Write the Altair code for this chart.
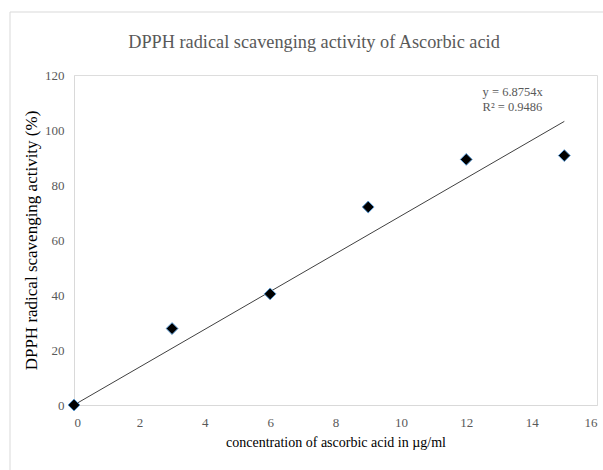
import altair as alt
import pandas as pd

conc = [0, 3, 6, 9, 12, 15]
activity = [0, 27.8, 40.4, 72.0, 89.3, 90.7]
slope = 6.8754
trend_x = [0, 15]
trend_y = [0, slope * 15]
x_ticks = [0, 2, 4, 6, 8, 10, 12, 14, 16]
y_ticks = [0, 20, 40, 60, 80, 100, 120]

pts = pd.DataFrame({"x": conc, "y": activity})
trend = pd.DataFrame({"x": trend_x, "y": trend_y})
eq = pd.DataFrame({"x": [12.5, 12.5], "y": [114, 108.5], "t": ["y = 6.8754x", "R² = 0.9486"]})
title_df = pd.DataFrame({"t": ["DPPH radical scavenging activity of Ascorbic acid"]})

FONT = "Liberation Serif"
GRAY = "#595959"

xs = alt.Scale(domain=[0, 16], nice=False)
ys = alt.Scale(domain=[0, 120], nice=False)

xaxis = alt.Axis(values=x_ticks, title="concentration of ascorbic acid in µg/ml", grid=False, ticks=False,
                 domainColor="#d9d9d9", labelColor=GRAY, labelFont=FONT, labelFontSize=13,
                 labelPadding=11, titleFont=FONT, titleFontSize=14, titleFontWeight="normal",
                 titleColor="#000000", titlePadding=6)
yaxis = alt.Axis(values=y_ticks, title="DPPH radical scavenging activity (%)", grid=False, ticks=False,
                 domainColor="#d9d9d9", labelColor=GRAY, labelFont=FONT, labelFontSize=13,
                 labelPadding=10, titleFont=FONT, titleFontSize=17, titleFontWeight="normal",
                 titleColor="#000000", titlePadding=4)

frame = alt.Chart(pd.DataFrame({"a": [0]})).mark_rect(fillOpacity=0, stroke="#d9d9d9", strokeWidth=1).encode(
    x=alt.value(-64), x2=alt.value(540), y=alt.value(-63), y2=alt.value(400))

title = alt.Chart(title_df).mark_text(align="center", baseline="alphabetic", font=FONT, fontSize=18.3,
                                      color=GRAY).encode(
    x=alt.value(240), y=alt.value(-27), text="t:N")

line = alt.Chart(trend).mark_line(color="#404040", strokeWidth=1).encode(
    x=alt.X("x:Q", scale=xs, axis=xaxis), y=alt.Y("y:Q", scale=ys, axis=yaxis))

points = alt.Chart(pts).mark_point(shape="diamond", filled=True, fill="black", stroke="#5b9bd5",
                                   strokeWidth=1, size=140, opacity=1).encode(
    x=alt.X("x:Q", scale=xs), y=alt.Y("y:Q", scale=ys))

text = alt.Chart(eq).mark_text(align="left", baseline="middle", font=FONT, fontSize=12.5, color=GRAY).encode(
    x=alt.X("x:Q", scale=xs), y=alt.Y("y:Q", scale=ys), text="t:N")

chart = alt.layer(frame, title, line, points, text).properties(
    width=523, height=330,
    padding={"left": 74, "top": 75, "right": 6, "bottom": 65},
    autosize=alt.AutoSizeParams(type="none"),
).configure_view(stroke=None).configure(background="white")

chart.save("out.html", embed_options={"renderer": "svg", "actions": False})
